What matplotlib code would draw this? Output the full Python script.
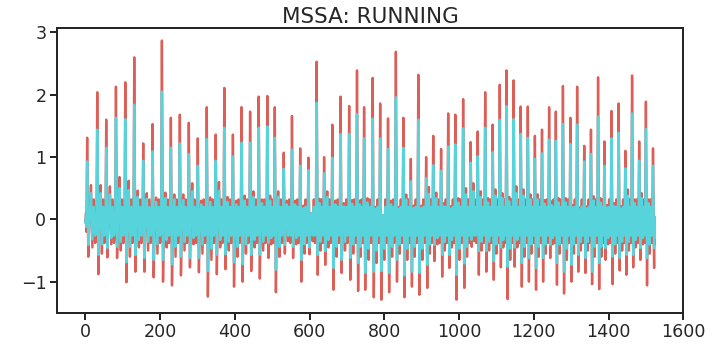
import numpy as np
import matplotlib
matplotlib.use("Agg")
import matplotlib.pyplot as plt
import seaborn as sns

# ---- data (per-cycle key points) ----
peak_idx = [5, 32, 56, 82, 107, 131, 155, 180, 205, 229, 253, 277, 301, 325, 349,
            372, 395, 418, 441, 464, 487, 507, 531, 553, 575, 597, 619, 639, 661,
            683, 706, 727, 746, 769, 789, 810, 831, 851, 871, 891, 912, 931, 952,
            971, 990, 1011, 1031, 1050, 1070, 1090, 1109, 1127, 1146, 1165, 1184,
            1203, 1222, 1241, 1259, 1278, 1298, 1316, 1335, 1353, 1372, 1389, 1408,
            1427, 1445, 1463, 1482, 1500, 1519]
red_peak = [1.31, 2.04, 1.60, 2.13, 2.20, 2.60, 1.22, 1.53, 2.87, 1.63, 1.68, 1.55,
            1.30, 1.80, 1.36, 2.11, 1.36, 1.80, 1.73, 1.97, 1.98, 1.80, 1.07, 1.66,
            1.14, 0.99, 2.53, 1.00, 1.52, 1.97, 1.82, 2.39, 1.80, 2.27, 1.86, 1.62,
            2.69, 1.63, 0.97, 2.32, 1.00, 1.34, 1.13, 1.70, 1.68, 1.93, 1.24, 1.41,
            2.04, 1.52, 2.16, 2.39, 2.23, 1.81, 1.81, 1.34, 1.44, 1.80, 1.73, 2.14,
            1.63, 2.13, 1.18, 1.44, 2.28, 1.25, 1.74, 1.86, 1.10, 2.31, 1.25, 1.89,
            1.14]
cyan_peak = [0.93, 1.44, 1.15, 1.63, 1.61, 1.84, 0.94, 1.09, 2.05, 1.15, 1.22, 1.05,
             0.86, 1.29, 0.94, 1.47, 1.01, 1.23, 1.23, 1.47, 1.49, 1.31, 0.81, 1.12,
             0.86, 0.79, 1.87, 0.74, 0.99, 1.37, 1.37, 1.69, 1.30, 1.62, 1.30, 1.13,
             1.96, 1.15, 0.61, 1.60, 0.66, 0.87, 0.78, 1.17, 1.20, 1.46, 0.91, 1.01,
             1.47, 1.08, 1.60, 1.82, 1.61, 1.37, 1.31, 0.97, 1.06, 1.28, 1.26, 1.53,
             1.21, 1.52, 0.93, 1.05, 1.65, 0.86, 1.30, 1.39, 0.82, 1.70, 0.94, 1.45,
             0.86]
red_trough = [-0.60, -0.88, -0.61, -0.62, -1.01, -0.84, -0.84, -0.93, -1.00, -1.06,
              -0.90, -0.77, -0.85, -1.24, -0.88, -0.80, -1.08, -1.00, -0.83, -0.95,
              -0.62, -1.17, -0.55, -0.62, -1.00, -0.56, -0.89, -0.73, -1.13, -0.86,
              -0.97, -1.15, -1.13, -1.25, -1.29, -1.17, -1.00, -1.25, -1.08, -1.21,
              -1.10, -0.67, -0.92, -0.78, -1.29, -1.10, -0.44, -0.89, -0.84, -0.97,
              -0.77, -1.28, -0.76, -1.08, -1.00, -1.13, -1.00, -0.62, -1.05, -1.19,
              -1.00, -0.84, -0.86, -1.04, -1.12, -0.65, -1.04, -0.82, -0.89, -0.77,
              -0.65, -1.06, -0.78]
cyan_trough = [-0.41, -0.57, -0.46, -0.44, -0.69, -0.57, -0.62, -0.65, -0.65, -0.72,
               -0.60, -0.62, -0.62, -0.83, -0.57, -0.56, -0.69, -0.72, -0.57, -0.57,
               -0.38, -0.81, -0.41, -0.44, -0.65, -0.45, -0.57, -0.51, -0.78, -0.65,
               -0.62, -0.70, -0.86, -0.84, -0.83, -0.86, -0.65, -0.90, -0.84, -0.86,
               -0.73, -0.41, -0.57, -0.57, -0.89, -0.71, -0.33, -0.51, -0.51, -0.67,
               -0.45, -0.76, -0.45, -0.70, -0.62, -0.78, -0.62, -0.41, -0.70, -0.84,
               -0.73, -0.57, -0.62, -0.84, -0.70, -0.46, -0.60, -0.62, -0.57, -0.57,
               -0.46, -0.62, -0.46]
# secondary bump / dip between spikes, per cycle
red_bump = [0.55, 0.55, 0.53, 0.68, 0.62, 0.46, 0.42, 0.35, 0.43, 0.40,
            0.40, 0.58, 0.30, 0.35, 0.60, 0.36, 0.30, 0.38, 0.45, 0.32, 0.38,
            0.45, 0.30, 0.30, 0.22, 0.10, 0.33, 0.45, 0.30, 0.26, 0.31, 0.30,
            0.34, 0.20, 0.07, 0.30, 0.20, 0.40, 0.22, 0.22, 0.52, 0.43, 0.26, 0.21, 0.34,
            0.50, 0.58, 0.45, 0.34, 0.48, 0.42, 0.36, 0.53, 0.48, 0.40, 0.40, 0.31, 0.29,
            0.34, 0.34, 0.23, 0.19, 0.21, 0.37, 0.34, 0.23, 0.26, 0.21, 0.48, 0.32, 0.42, 0.32, 0.30]
cyan_bump = [0.42, 0.42, 0.40, 0.50, 0.47, 0.36, 0.33, 0.28, 0.34, 0.32,
             0.31, 0.45, 0.24, 0.28, 0.46, 0.28, 0.24, 0.30, 0.36, 0.26, 0.30,
             0.36, 0.24, 0.24, 0.18, 0.10, 0.26, 0.36, 0.24, 0.21, 0.25, 0.24,
             0.27, 0.17, 0.07, 0.24, 0.17, 0.32, 0.18, 0.18, 0.41, 0.34, 0.21, 0.17, 0.27,
             0.40, 0.45, 0.36, 0.27, 0.38, 0.34, 0.29, 0.42, 0.38, 0.32, 0.32, 0.25, 0.23,
             0.27, 0.27, 0.19, 0.16, 0.17, 0.30, 0.27, 0.19, 0.21, 0.17, 0.38, 0.26, 0.34, 0.26, 0.24]
red_dip = [-0.45, -0.55, -0.40, -0.50, -0.60, -0.45, -0.50, -0.55, -0.45, -0.60,
           -0.50, -0.40, -0.55, -0.65, -0.45, -0.50, -0.60, -0.55, -0.45, -0.50, -0.40,
           -0.60, -0.35, -0.40, -0.55, -0.35, -0.50, -0.45, -0.60, -0.50, -0.55, -0.60,
           -0.65, -0.70, -0.65, -0.60, -0.55, -0.65, -0.60, -0.65, -0.55, -0.40, -0.50, -0.45, -0.65,
           -0.60, -0.35, -0.50, -0.50, -0.55, -0.45, -0.65, -0.45, -0.60, -0.55, -0.60, -0.55, -0.40,
           -0.55, -0.65, -0.55, -0.50, -0.50, -0.60, -0.60, -0.40, -0.55, -0.50, -0.50, -0.45, -0.40, -0.55, -0.45]
cyan_dip = [-0.32, -0.40, -0.30, -0.36, -0.44, -0.33, -0.36, -0.40, -0.33, -0.44,
            -0.36, -0.30, -0.40, -0.47, -0.33, -0.36, -0.44, -0.40, -0.33, -0.36, -0.30,
            -0.44, -0.26, -0.30, -0.40, -0.26, -0.36, -0.33, -0.44, -0.36, -0.40, -0.44,
            -0.47, -0.50, -0.47, -0.44, -0.40, -0.47, -0.44, -0.47, -0.40, -0.30, -0.36, -0.33, -0.47,
            -0.44, -0.26, -0.36, -0.36, -0.40, -0.33, -0.47, -0.33, -0.44, -0.40, -0.44, -0.40, -0.30,
            -0.40, -0.47, -0.40, -0.36, -0.36, -0.44, -0.44, -0.30, -0.40, -0.36, -0.36, -0.33, -0.30, -0.40, -0.33]
# fixed small levels inside each cycle (red, cyan)
red_levels = {"pre": -0.20, "rise": 0.05, "mid": 0.32, "late": -0.38}
cyan_levels = {"pre": -0.12, "rise": 0.03, "mid": 0.20, "late": -0.26}
start_x, start_red, start_cyan = [0, 2], [-0.05, 0.10], [-0.05, 0.05]
end_x, end_red, end_cyan = [1522, 1524], [0.05, -0.40], [0.05, -0.30]


def build(peak, trough, bump, dip, lv, sx, sy, ex, ey):
    xs, ys = list(sx), list(sy)
    n = len(peak_idx)
    for i, p in enumerate(peak_idx):
        xs += [p - 2, p, p + 3]
        ys += [lv["pre"], peak[i], trough[i]]
        if i < n - 1:
            T = peak_idx[i + 1] - p
            xs += [p + 0.24 * T, p + 0.38 * T, p + 0.52 * T, p + 0.66 * T, p + 0.80 * T]
            ys += [lv["rise"], bump[i], dip[i], lv["mid"], lv["late"]]
    xs += ex
    ys += ey
    return xs, ys


rx, ry = build(red_peak, red_trough, red_bump, red_dip, red_levels,
               start_x, start_red, end_x, end_red)
cx, cy = build(cyan_peak, cyan_trough, cyan_bump, cyan_dip, cyan_levels,
               start_x, start_cyan, end_x, end_cyan)

sns.set_style("ticks")
plt.rcParams['font.family'] = ['DejaVu Sans']
colors = sns.color_palette("hls", 2)

fig = plt.figure(figsize=(10, 5), dpi=72)
ax = fig.add_axes([0.079, 0.131, 0.870, 0.791])
ax.plot(rx, ry, color=colors[0], lw=2.4)
ax.plot(cx, cy, color=colors[1], lw=2.4)
ax.set_xlim(-76, 1600)
ax.set_ylim(-1.5, 3.07)
ax.set_xticks([0, 200, 400, 600, 800, 1000, 1200, 1400, 1600])
ax.set_yticks([-1, 0, 1, 2, 3])
ax.tick_params(labelsize=17.5, length=7, width=2, colors='#262626')
for s in ax.spines.values():
    s.set_linewidth(2)
    s.set_color('#262626')
ax.set_title("MSSA: RUNNING", fontsize=21.5, color='#262626', pad=5)
fig.savefig("out.png", dpi=72)
